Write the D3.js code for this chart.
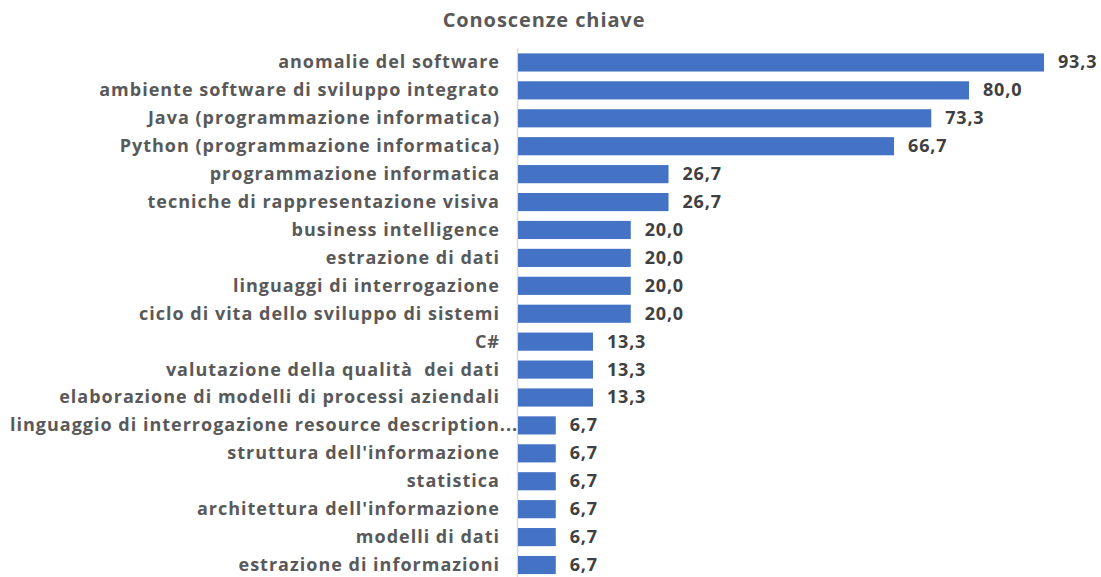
<!DOCTYPE html>
<html>
<head>
<meta charset="utf-8">
<script src="https://cdn.jsdelivr.net/npm/d3@7"></script>
<style>
  body { margin: 0; background: #fff; }
  text { font-family: "Open Sans", sans-serif; white-space: pre; }
</style>
</head>
<body>
<div id="chart"></div>
<script>
var categories = [
  "anomalie del software",
  "ambiente software di sviluppo integrato",
  "Java (programmazione informatica)",
  "Python (programmazione informatica)",
  "programmazione informatica",
  "tecniche di rappresentazione visiva",
  "business intelligence",
  "estrazione di dati",
  "linguaggi di interrogazione",
  "ciclo di vita dello sviluppo di sistemi",
  "C#",
  "valutazione della qualità  dei dati",
  "elaborazione di modelli di processi aziendali",
  "linguaggio di interrogazione resource description...",
  "struttura dell'informazione",
  "statistica",
  "architettura dell'informazione",
  "modelli di dati",
  "estrazione di informazioni"
];
var values = [93.3, 80.0, 73.3, 66.7, 26.7, 26.7, 20.0, 20.0, 20.0, 20.0,
              13.3, 13.3, 13.3, 6.7, 6.7, 6.7, 6.7, 6.7, 6.7];
var title = "Conoscenze chiave";

var width = 1101, height = 577;
var data = categories.map(function(c, i) { return { name: c, value: values[i] }; });

var svg = d3.select("#chart")
            .append("svg")
            .attr("width", width)
            .attr("height", height);

svg.append("text")
   .attr("x", 544)
   .attr("y", 27)
   .attr("text-anchor", "middle")
   .attr("font-size", "20px")
   .attr("font-weight", "bold")
   .attr("letter-spacing", "0.9px")
   .attr("fill", "#595959")
   .text(title);

var x = d3.scaleLinear().domain([0, 100]).range([518, 518 + 563.8]),
    y = d3.scaleBand().domain(categories)
          .range([48.5, 48.5 + 19 * 27.92])
          .paddingInner(0.35).paddingOuter(0.175);

// vertical axis line
svg.append("line")
   .attr("x1", x(0) - 0.5).attr("x2", x(0) - 0.5)
   .attr("y1", y.range()[0]).attr("y2", height)
   .attr("stroke", "#d9d9d9")
   .attr("stroke-width", 1.5);

var labels = svg.selectAll(".cat")
   .data(data)
   .enter()
   .append("text")
   .attr("class", "cat")
   .attr("x", 500)
   .attr("y", function(d) { return y(d.name) + y.bandwidth() / 2; })
   .attr("dy", "0.33em")
   .attr("text-anchor", "end")
   .attr("font-size", "18px")
   .attr("font-weight", "bold")
   .attr("letter-spacing", "1px")
   .attr("fill", "#595959")
   .text(function(d) { return d.name; });

// keep over-long labels inside the left edge
labels.each(function() {
  var b = this.getBBox();
  if (b.x < 10) d3.select(this).attr("x", 500 + (10 - b.x));
});

svg.selectAll(".bar")
   .data(data)
   .enter()
   .append("rect")
   .attr("class", "bar")
   .attr("x", x(0))
   .attr("y", function(d) { return y(d.name); })
   .attr("width", function(d) { return x(d.value) - x(0); })
   .attr("height", y.bandwidth())
   .attr("fill", "#4472c4");

svg.selectAll(".val")
   .data(data)
   .enter()
   .append("text")
   .attr("class", "val")
   .attr("x", function(d) { return x(d.value) + 14; })
   .attr("y", function(d) { return y(d.name) + y.bandwidth() / 2; })
   .attr("dy", "0.33em")
   .attr("font-size", "18px")
   .attr("font-weight", "bold")
   .attr("letter-spacing", "0.8px")
   .attr("fill", "#404040")
   .text(function(d) { return d3.format(".1f")(d.value).replace(".", ","); });
</script>
</body>
</html>
